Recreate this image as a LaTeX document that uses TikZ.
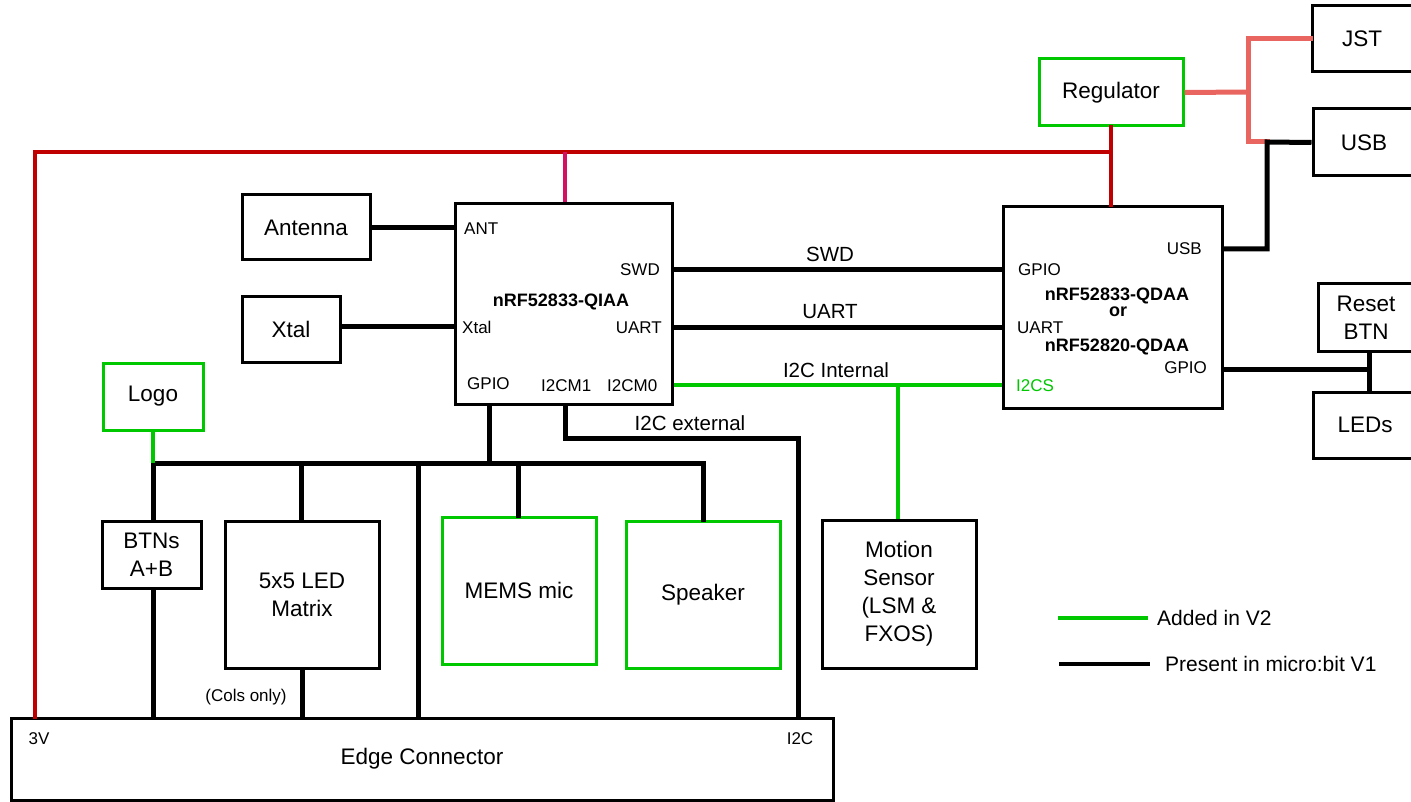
\documentclass[tikz,border=0pt]{standalone}
\usepackage{fontspec}
\setmainfont{Liberation Sans}
\definecolor{vred}{RGB}{192,0,0}
\definecolor{vmag}{RGB}{210,16,100}
\definecolor{vsal}{RGB}{232,102,95}
\definecolor{vgreen}{RGB}{0,200,0}
\begin{document}
\begin{tikzpicture}[x=1pt,y=-1pt,
 box/.style={draw, line width=3pt, inner sep=0pt, align=center, font=\fontsize{22.5}{28}\selectfont},
 gbox/.style={box, draw=vgreen},
 small/.style={inner sep=0pt, font=\fontsize{17}{20}\selectfont},
 med/.style={inner sep=0pt, font=\fontsize{20.5}{24}\selectfont},
 chip/.style={inner sep=0pt, align=center, font=\fontsize{18}{16}\selectfont\bfseries},
 wire/.style={line width=5pt, line cap=rect},
 gwire/.style={line width=4pt, draw=vgreen, line cap=rect},
 rwire/.style={line width=4pt, draw=vred, line cap=rect},
]
\useasboundingbox[fill=white] (0,0) rectangle (1411,802);

% boxes
\node[box, minimum width=128pt, minimum height=65pt] (antenna) at (306,227.5) {Antenna};
\node[box, minimum width=98pt, minimum height=65pt] (xtal) at (291,329.5) {Xtal};
\node[box, minimum width=217pt, minimum height=200pt] (main) at (563.5,304) {};
\node[box, minimum width=219pt, minimum height=201pt] (iface) at (1112.5,307.5) {};
\node[gbox, minimum width=144pt, minimum height=67pt] (reg) at (1111,92.5) {Regulator};
\node[box, minimum width=100pt, minimum height=66pt] (jst) at (1362,39) {JST};
\node[box, minimum width=102pt, minimum height=67pt] (usb) at (1364,142.5) {USB};
\node[box, minimum width=96pt, minimum height=67pt] (reset) at (1366,317.5) {Reset\\BTN};
\node[box, minimum width=104pt, minimum height=66pt] (leds) at (1365,425) {LEDs};
\node[gbox, minimum width=100pt, minimum height=67pt] (logo) at (153,396.5) {Logo};
\node[box, minimum width=99pt, minimum height=67pt] (btns) at (151.5,554.5) {BTNs\\A+B};
\node[box, minimum width=154pt, minimum height=147pt] (ledm) at (302,594.5) {5x5 LED\\Matrix};
\node[gbox, minimum width=154pt, minimum height=147pt] (mems) at (519,590.5) {MEMS mic};
\node[gbox, minimum width=154pt, minimum height=147pt] (spk) at (703,594.5) {Speaker};
\node[box, minimum width=154pt, minimum height=148pt] (motion) at (899,594) {Motion\\Sensor\\(LSM \&\\FXOS)};
\node[box, minimum width=822pt, minimum height=82pt] (edge) at (422,759) {Edge Connector};

% main chip labels
\node[small, anchor=west] (mANT) at (464,229) {ANT};
\node[small, anchor=east] (mSWD) at (660,270) {SWD};
\node[chip] (mname) at (561,302) {nRF52833-QIAA};
\node[small, anchor=west] (mXtal) at (462,327) {Xtal};
\node[small, anchor=east] (mUART) at (662,328) {UART};
\node[small, anchor=west] (mGPIO) at (467,384) {GPIO};
\node[small, anchor=west] (mI2CM1) at (541,386) {I2CM1};
\node[small, anchor=west] (mI2CM0) at (607,386) {I2CM0};

% interface chip labels
\node[small, anchor=east] (iUSB) at (1202,249) {USB};
\node[small, anchor=west] (iGPIO) at (1018,270) {GPIO};
\node[chip] (iname1) at (1117,296) {nRF52833-QDAA};
\node[chip] (ior) at (1118,312) {or};
\node[chip] (iname2) at (1117,347) {nRF52820-QDAA};
\node[small, anchor=west] (iUART) at (1017,328) {UART};
\node[small, anchor=east] (iGPIO2) at (1207,368) {GPIO};
\node[small, anchor=west, text=vgreen] (iI2CS) at (1016,386) {I2CS};

% edge labels
\node[small] (e3V) at (39,739) {3V};
\node[small] (eI2C) at (800,739) {I2C};
\node[small] (cols) at (246,697) {(Cols only)};

% connector labels
\node[med] (lSWD) at (830,254) {SWD};
\node[med] (lUART) at (830,312) {UART};
\node[med] (lI2Ci) at (836,370) {I2C Internal};
\node[med] (lI2Ce) at (690,423) {I2C external};

% bend coordinates
\coordinate (rc) at (35,152);
\coordinate (rr) at (1111,152);
\coordinate (mag) at (565,152);
\coordinate (sj) at (1248,92);
\coordinate (ub) at (1267,142);
\coordinate (gp) at (489,463);
\coordinate (busL) at (153,463);
\coordinate (busR) at (703,463);
\coordinate (busLed) at (301,463);
\coordinate (busEdge) at (418,463);
\coordinate (busMems) at (518,463);
\coordinate (ext1) at (565,438);
\coordinate (ext2) at (798,438);
\coordinate (gI) at (898,385);
\coordinate (rj) at (1369,369);

% power
\draw[rwire] (edge.north -| rc) -- (rc) -- (rr);
\draw[rwire] (reg.south) -- (iface.north -| reg.south);
\draw[line width=4pt, draw=vmag] (mag) -- (main.north -| mag);
\draw[line width=5pt, draw=vsal] (reg.east) -- (sj);
\draw[line width=5pt, draw=vsal, line cap=rect] (jst.west) -- (jst.west -| sj) -- (ub -| sj) -- (ub);

% black signals
\draw[wire, line cap=butt] (usb.west) -- (ub) -- (ub |- iUSB) -- (iUSB -| iface.east);
\draw[wire, line cap=butt] (antenna.east) -- (antenna.east -| main.west);
\draw[wire, line cap=butt] (xtal.east |- mXtal) -- (mXtal -| main.west);
\draw[wire, line cap=butt] (mSWD -| main.east) -- (mSWD -| iface.west);
\draw[wire, line cap=butt] (mUART -| main.east) -- (mUART -| iface.west);
\draw[wire] (main.south -| ext1) -- (ext1) -- (ext2) -- (edge.north -| ext2);
\draw[wire] (main.south -| gp) -- (gp);
\draw[wire] (busL) -- (busR);
\draw[wire] (busL) -- (btns.north -| busL);
\draw[wire] (busLed) -- (ledm.north -| busLed);
\draw[wire] (busEdge) -- (edge.north -| busEdge);
\draw[wire] (busMems) -- (mems.north -| busMems);
\draw[wire] (busR) -- (spk.north -| busR);
\draw[wire, line cap=butt] (btns.south -| busL) -- (edge.north -| busL);
\draw[wire, line cap=butt] (ledm.south) -- (edge.north -| ledm.south);
\draw[wire, line cap=butt] (iface.east |- rj) -- (rj);
\draw[wire, line cap=butt] (reset.south -| rj) -- (leds.north -| rj);

% green signals
\draw[gwire, line cap=butt] (logo.south) -- (busL);
\draw[gwire, line cap=butt] (main.east |- gI) -- (iface.west |- gI);
\draw[gwire, line cap=butt] (gI) -- (motion.north -| gI);

% legend
\coordinate (lg1a) at (1058,618);
\coordinate (lg1b) at (1148,618);
\coordinate (lg2a) at (1059,664);
\coordinate (lg2b) at (1150,664);
\draw[line width=4pt, draw=vgreen] (lg1a) -- (lg1b);
\draw[line width=4pt] (lg2a) -- (lg2b);
\node[inner sep=0pt, anchor=west, font=\fontsize{21}{24}\selectfont] (leg1) at (1157,618) {Added in V2};
\node[inner sep=0pt, anchor=west, font=\fontsize{21}{24}\selectfont] (leg2) at (1165,664) {Present in micro:bit V1};
\end{tikzpicture}
\end{document}
